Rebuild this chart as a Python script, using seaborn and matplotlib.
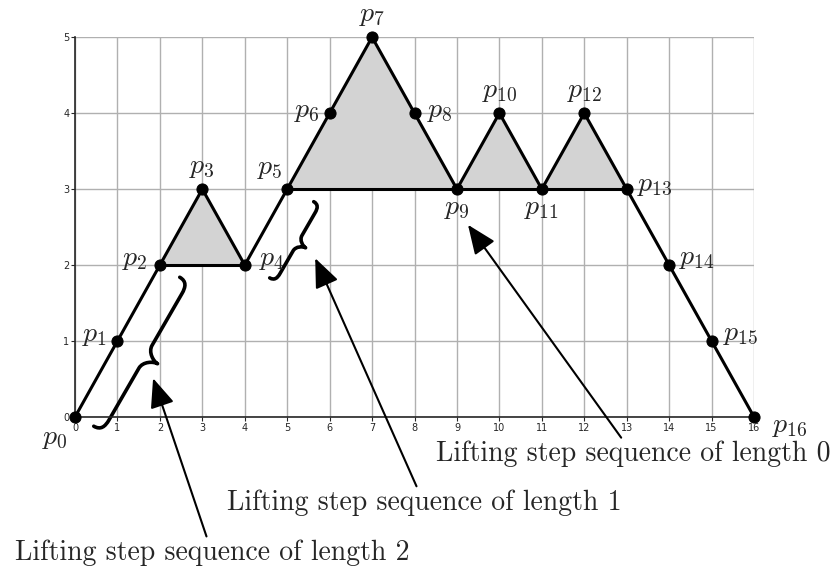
"""
Lifting step sequences on a lattice path p0 .. p16
"""

import numpy as np
import pandas as pd
import matplotlib
matplotlib.use('Agg')
import matplotlib.pyplot as plt
import seaborn as sns
from matplotlib.path import Path
from matplotlib.patches import PathPatch
from matplotlib.transforms import Affine2D, ScaledTranslation

# Path vertices
x_pts = [0, 1, 2, 3, 4, 5, 6, 7, 8, 9, 10, 11, 12, 13, 14, 15, 16]
y_pts = [0, 1, 2, 3, 2, 3, 4, 5, 4, 3, 4, 3, 4, 3, 2, 1, 0]
point_names = [f'$p_{{{i}}}$' for i in range(len(x_pts))]

# Shaded regions (indices into the path) and the horizontal chords
shaded = [[2, 3, 4], [5, 6, 7, 8, 9], [9, 10, 11], [11, 12, 13]]
chords = [[2, 4], [5, 13]]

# Annotations: text, arrow tip (data), text centre (data)
notes = ['Lifting step sequence of length 2',
         'Lifting step sequence of length 1',
         'Lifting step sequence of length 0']
note_tips = [(1.84, 0.51), (5.66, 2.09), (9.26, 2.53)]
note_text_pos = [(3.23, -1.79), (8.22, -1.13), (13.15, -0.49)]

# Label placement: (dx px, dy px, ha, va)
label_place = [
    (-7, -6, 'right', 'top'), (-10, 7, 'right', 'center'),
    (-12, 7, 'right', 'center'), (0, 9, 'center', 'bottom'),
    (14, 7, 'left', 'center'), (-5, 8, 'right', 'bottom'),
    (-10, 3, 'right', 'center'), (0, 9, 'center', 'bottom'),
    (12, 3, 'left', 'center'), (0, -4, 'center', 'top'),
    (0, 9, 'center', 'bottom'), (0, -4, 'center', 'top'),
    (0, 9, 'center', 'bottom'), (10, 5, 'left', 'center'),
    (10, 8, 'left', 'center'), (11, 8, 'left', 'center'),
    (18, -8, 'left', 'center'),
]

# Braces: centre (data), length px, width px, rotation deg
braces = [((1.70, 0.78), 172, 24, -30), ((5.27, 2.28), 88, 16, -30)]

sns.set_style('ticks')
plt.rcParams['mathtext.fontset'] = 'cm'
plt.rcParams['axes.unicode_minus'] = False


def draw_brace(ax, center, length, width, angle, lw=2.6):
    # a "}" shape drawn as a stroked curve, in pixel units around the centre
    a = length / 2
    w = width
    s = w * 0.42
    d = w * 0.55
    verts = [(0, a), (s * 0.8, a), (s, a - d * 0.4), (s, a - d),
             (s, d),
             (s, d * 0.4), (w * 0.8, 0), (w, 0),
             (w * 0.8, 0), (s, -d * 0.4), (s, -d),
             (s, -a + d),
             (s, -a + d * 0.4), (s * 0.8, -a), (0, -a)]
    codes = ([Path.MOVETO] + [Path.CURVE4] * 3 + [Path.LINETO]
             + [Path.CURVE4] * 6 + [Path.LINETO] + [Path.CURVE4] * 3)
    path = Path(np.array(verts) - [w / 2, 0], codes)
    trans = (Affine2D().rotate_deg(angle)
             + ScaledTranslation(center[0], center[1], ax.transData))
    ax.add_artist(PathPatch(path, transform=trans, fc='none', ec='black',
                            lw=lw, capstyle='round', joinstyle='round',
                            clip_on=False))


fig = plt.figure(figsize=(8.38, 5.72), dpi=100)
ax = fig.add_axes([0.0895, 0.271, 0.8103, 0.664])

xs = np.array(x_pts)
ys = np.array(y_pts)

for idx in shaded:
    ax.fill(xs[idx], ys[idx], color='#d3d3d3', lw=0, zorder=2)
for a, b in chords:
    ax.plot([xs[a], xs[b]], [ys[a], ys[b]], color='black', lw=2.2, zorder=3)

df = pd.DataFrame({'x': x_pts, 'y': y_pts})
sns.lineplot(data=df, x='x', y='y', sort=False, ax=ax, color='black',
             lw=2.2, marker='o', markersize=8, markeredgecolor='black',
             clip_on=False, zorder=4)

for i, name in enumerate(point_names):
    dx, dy, ha, va = label_place[i]
    ax.annotate(name, xy=(x_pts[i], y_pts[i]), xytext=(dx, dy),
                textcoords='offset pixels', ha=ha, va=va, fontsize=20,
                annotation_clip=False)

for center, length, width, angle in braces:
    draw_brace(ax, center, length, width, angle)

for text, tip, pos in zip(notes, note_tips, note_text_pos):
    ax.annotate(text, xy=tip, xytext=pos, ha='center', va='center',
                fontsize=20, family='cmr10', annotation_clip=False,
                arrowprops=dict(arrowstyle='-|>,head_length=0.6,head_width=0.25',
                                color='black', lw=1.5, mutation_scale=30,
                                shrinkA=0, shrinkB=0))

ax.set_xlim(0, 16)
ax.set_ylim(0, 5)
ax.set_xticks(range(17))
ax.set_yticks(range(6))
ax.set_xlabel('')
ax.set_ylabel('')
ax.grid(True, color='#b0b0b0', lw=1)
ax.set_axisbelow(True)
ax.tick_params(labelsize=7, length=3, width=0.8, pad=1)
for side in ['top', 'right']:
    ax.spines[side].set_visible(False)
for side in ['left', 'bottom']:
    ax.spines[side].set_linewidth(1.2)
    ax.spines[side].set_zorder(2.5)

fig.savefig('out.png', dpi=100)
